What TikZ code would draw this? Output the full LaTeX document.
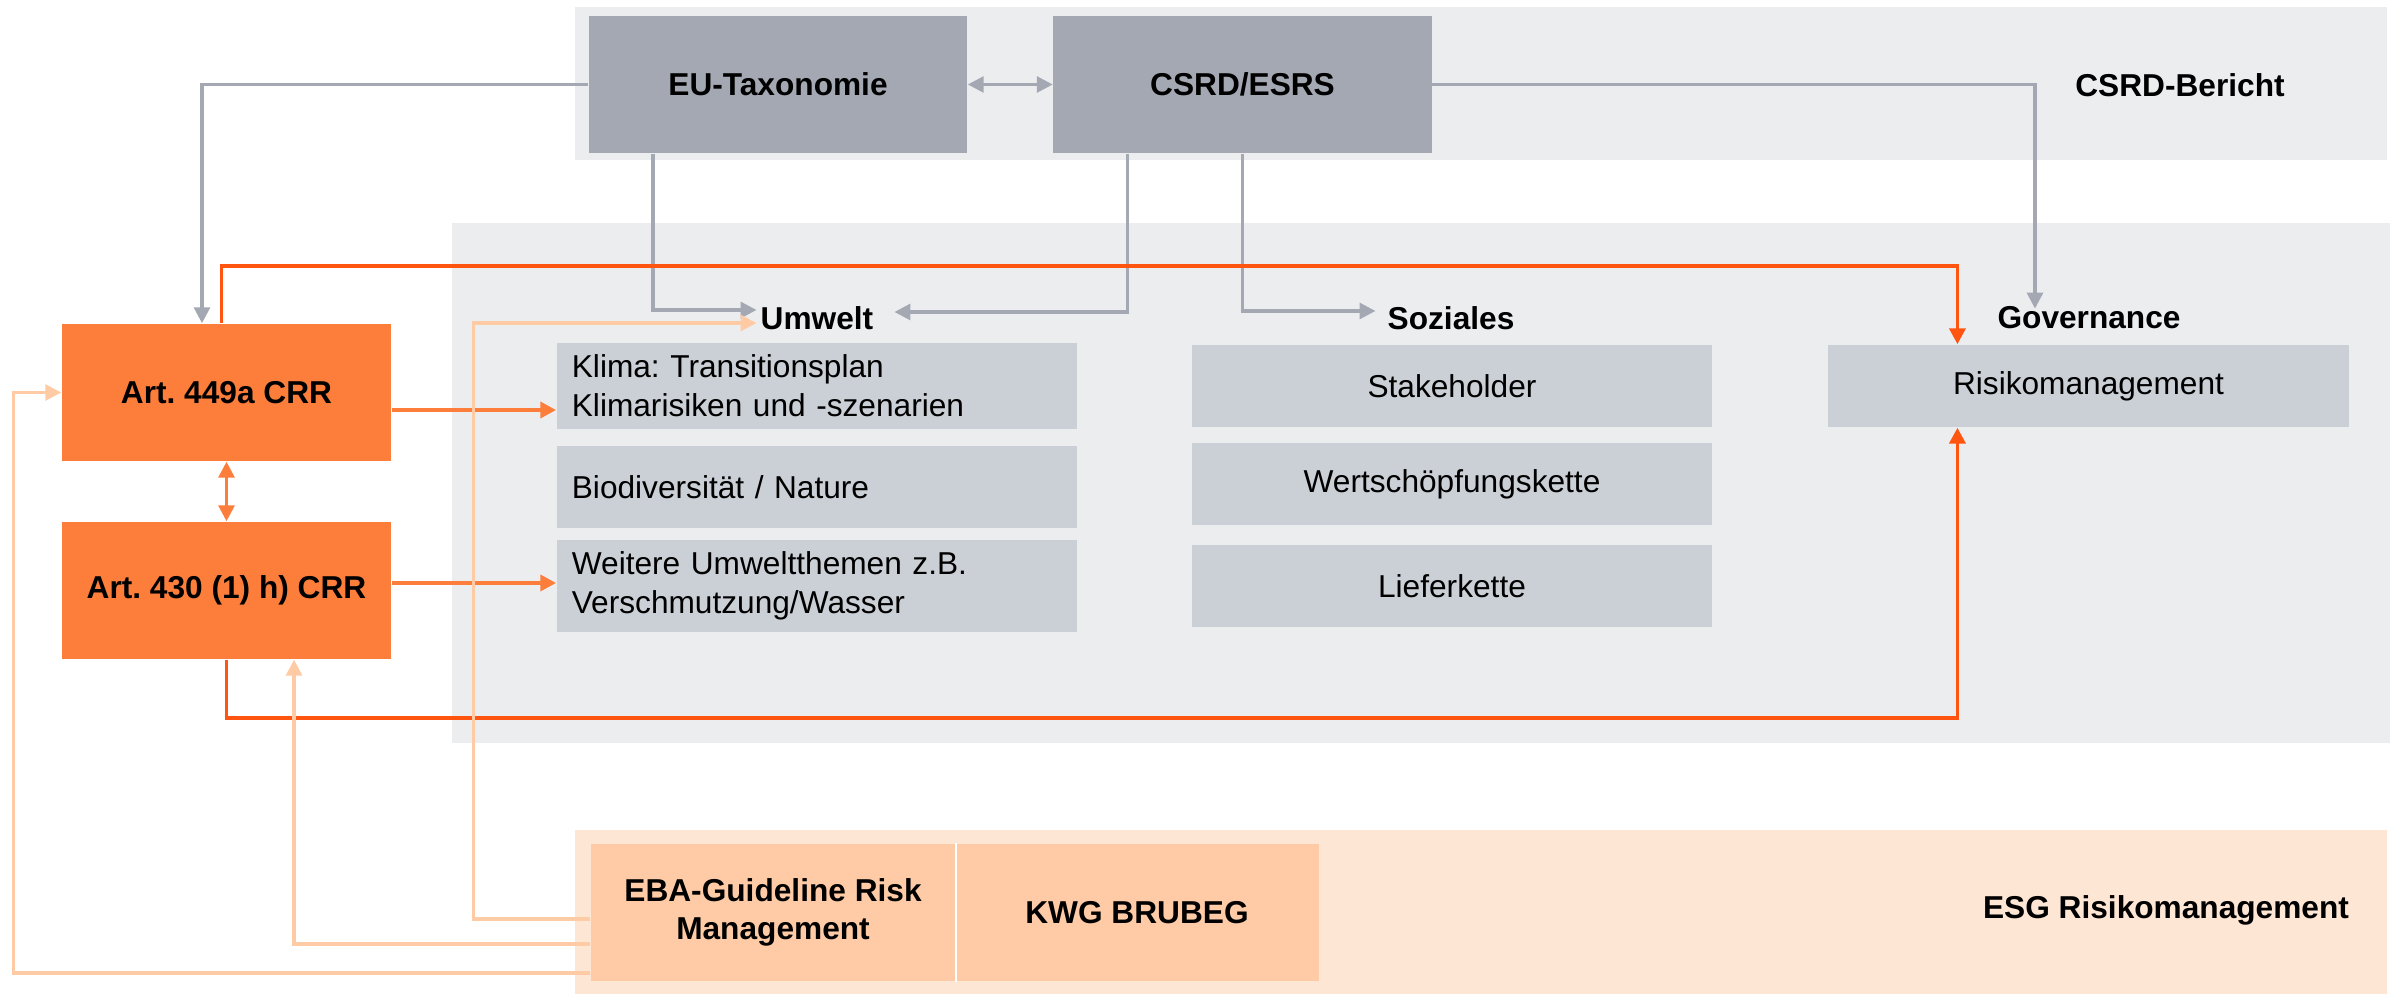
\documentclass[tikz,border=0pt]{standalone}
\usepackage{fontspec}
\setmainfont{Liberation Sans}
\usepackage{tikz}
\usetikzlibrary{arrows.meta}
\usetikzlibrary{positioning}

\definecolor{bandgray}{HTML}{ECEDEF}
\definecolor{boxgray}{HTML}{A3A8B3}
\definecolor{itemgray}{HTML}{CBCFD6}
\definecolor{artorange}{HTML}{FD7D3B}
\definecolor{lineorange}{HTML}{FF5511}
\definecolor{peachline}{HTML}{FFCBA4}
\definecolor{peachband}{HTML}{FEE6D5}
\definecolor{peachbox}{HTML}{FECBA6}

\newcommand{\diafont}{\fontsize{9}{11}\selectfont}
\frenchspacing

\begin{document}
\begin{tikzpicture}[x=0.01cm,y=-0.01cm,font=\diafont,
		topbox/.style={fill=boxgray,font=\diafont\bfseries,minimum width=3.78cm,minimum height=1.37cm},
		artbox/.style={fill=artorange,font=\diafont\bfseries,minimum width=3.29cm,minimum height=1.37cm},
		itembox/.style={fill=itemgray,minimum height=0.82cm,text width=4.9cm,inner xsep=0.15cm},
		ebabox/.style={fill=peachbox,font=\diafont\bfseries,align=center,minimum width=3.64cm,minimum height=1.37cm},
		heading/.style={font=\diafont\bfseries,inner sep=1pt},
		grayarrow/.style={draw=boxgray,line width=0.9pt,-{Triangle[length=4.5pt,width=4.5pt]}},
		redarrow/.style={draw=lineorange,line width=1.1pt,-{Triangle[length=4.5pt,width=4.5pt]}},
		orangearrow/.style={draw=artorange,line width=1.3pt,-{Triangle[length=4.5pt,width=4.5pt]}},
		peacharrow/.style={draw=peachline,line width=0.9pt,-{Triangle[length=4.5pt,width=4.5pt]}}]
		\useasboundingbox (0,0) rectangle (2394,995);

		\fill[bandgray] (575,7) rectangle (2387,160);
		\fill[bandgray] (452,223) rectangle (2390,743);
		\fill[peachband] (575,830) rectangle (2387,994);

		\node[topbox] (eutax) at (778,84.5) {EU-Taxonomie};
		\node[topbox] (csrd) at (1242.5,84.5) {CSRD/ESRS};
		\node[heading] (bericht) at (2180,85) {CSRD-Bericht};

		\node[artbox] (art449) at (226.5,392.5) {Art. 449a CRR};
		\node[artbox] (art430) at (226.5,590.5) {Art. 430 (1) h) CRR};

		\node[heading] (umwelt) at (817,318) {Umwelt};
		\node[heading] (soziales) at (1451,318) {Soziales};
		\node[heading] (governance) at (2089,318) {Governance};

		\begin{scope}[every node/.style={itembox,align=left}]
			\node (klima) at (817,386) {Klima: Transitionsplan\\Klimarisiken und -szenarien};
			\node (bio) at (817,487) {Biodiversität / Nature};
			\node (weitere) at (817,586) {Weitere Umweltthemen z.B.\\Verschmutzung/Wasser};
		\end{scope}
		\begin{scope}[every node/.style={itembox,align=center}]
			\node (stake) at (1452,386) {Stakeholder};
			\node (wert) at (1452,484) {Wertschöpfungskette};
			\node (liefer) at (1452,586) {Lieferkette};
			\node (risk) at (2088.5,386) {Risikomanagement};
		\end{scope}

		\node[ebabox] (eba) at (773,912.5) {EBA-Guideline Risk\\Management};
		\node[ebabox] (kwg) at (1137,912.5) {KWG BRUBEG};
		\draw[white,line width=0.4pt] (eba.north east) -- (eba.south east);
		\node[heading] (esg) at (2166,910) {ESG Risikomanagement};

		\draw[grayarrow] (eutax.west) -| ([xshift=-0.245cm]art449.north);
		\draw[grayarrow,{Triangle[length=4.5pt,width=4.5pt]}-{Triangle[length=4.5pt,width=4.5pt]}] (eutax) -- (csrd);
		\draw[grayarrow] ([xshift=-1.25cm]eutax.south) |- ([yshift=0.08cm]umwelt.west);
		\draw[grayarrow] ([xshift=-1.15cm]csrd.south) |- ([yshift=0.06cm,xshift=0.17cm]umwelt.east);
		\draw[grayarrow] (csrd.south) |- ([yshift=0.07cm,xshift=-0.08cm]soziales.west);
		\draw[grayarrow] (csrd.east) -| ([xshift=-0.54cm,yshift=-0.06cm]governance.north);

		\draw[redarrow] ([xshift=-0.05cm]art449.north) -- ++(0,-57) -| ([xshift=-1.31cm]risk.north);
		\draw[redarrow] (art430.south) -- ++(0,58) -| ([xshift=-1.31cm]risk.south);
		\draw[orangearrow] ([yshift=-0.175cm]art449.east) coordinate (a) -- (a -| klima.west);
		\draw[orangearrow] ([yshift=0.075cm]art430.east) coordinate (b) -- (b -| weitere.west);
		\draw[draw=artorange,line width=0.9pt,{Triangle[length=4.5pt,width=4.5pt]}-{Triangle[length=4.5pt,width=4.5pt]}] (art449) -- (art430);

		\draw[peacharrow] ([yshift=-0.065cm]eba.west) -- ++(-117,0) |- ([yshift=-0.05cm]umwelt.west);
		\draw[peacharrow] ([yshift=-0.315cm]eba.west) -| ([xshift=0.675cm]art430.south);
		\draw[peacharrow] ([yshift=-0.605cm]eba.west) -- ++(-577,0) |- (art449.west);
	\end{tikzpicture}
\end{document}
